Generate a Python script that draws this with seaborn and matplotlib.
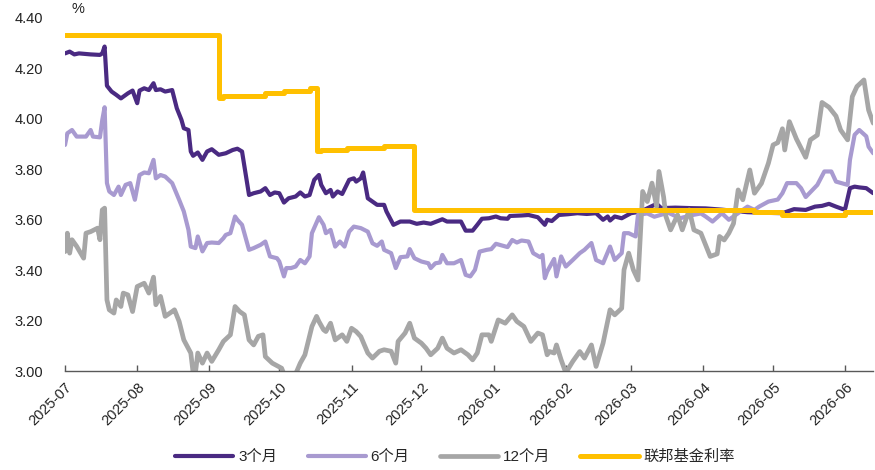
import matplotlib
matplotlib.use("Agg")
import matplotlib.pyplot as plt
import matplotlib.dates as mdates
import pandas as pd
import seaborn as sns

# ---- data -----------------------------------------------------------------
dates_3m = ["2025-07-01", "2025-07-03", "2025-07-05", "2025-07-07", "2025-07-12", "2025-07-16",
            "2025-07-17", "2025-07-18", "2025-07-19", "2025-07-21", "2025-07-23", "2025-07-25",
            "2025-07-28", "2025-07-30", "2025-08-01", "2025-08-02", "2025-08-04", "2025-08-06",
            "2025-08-08", "2025-08-09", "2025-08-11", "2025-08-13", "2025-08-16", "2025-08-18",
            "2025-08-20", "2025-08-21", "2025-08-23", "2025-08-24", "2025-08-25", "2025-08-27",
            "2025-08-29", "2025-08-31", "2025-09-02", "2025-09-05", "2025-09-08", "2025-09-11",
            "2025-09-13", "2025-09-15", "2025-09-18", "2025-09-20", "2025-09-23", "2025-09-25",
            "2025-09-27", "2025-09-29", "2025-10-01", "2025-10-03", "2025-10-05", "2025-10-08",
            "2025-10-10", "2025-10-12", "2025-10-14", "2025-10-16", "2025-10-18", "2025-10-19",
            "2025-10-21", "2025-10-23", "2025-10-24", "2025-10-26", "2025-10-28", "2025-10-31",
            "2025-11-02", "2025-11-03", "2025-11-05", "2025-11-06", "2025-11-08", "2025-11-10",
            "2025-11-12", "2025-11-15", "2025-11-16", "2025-11-19", "2025-11-22", "2025-11-26",
            "2025-11-29", "2025-12-02", "2025-12-05", "2025-12-10", "2025-12-12", "2025-12-18",
            "2025-12-20", "2025-12-23", "2025-12-25", "2025-12-27", "2025-12-30", "2026-01-02",
            "2026-01-04", "2026-01-07", "2026-01-08", "2026-01-13", "2026-01-16", "2026-01-20",
            "2026-01-23", "2026-01-24", "2026-01-26", "2026-01-29", "2026-02-02", "2026-02-06",
            "2026-02-10", "2026-02-14", "2026-02-17", "2026-02-19", "2026-02-20", "2026-02-22",
            "2026-02-25", "2026-03-01", "2026-03-05", "2026-03-12", "2026-03-14", "2026-03-20",
            "2026-03-27", "2026-04-02", "2026-04-09", "2026-04-20", "2026-04-26", "2026-05-05",
            "2026-05-10", "2026-05-15", "2026-05-19", "2026-05-22", "2026-05-25", "2026-05-28",
            "2026-05-31", "2026-06-01", "2026-06-03", "2026-06-05", "2026-06-07", "2026-06-10",
            "2026-06-13"]
vals_3m = [4.258, 4.265, 4.254, 4.258, 4.254, 4.252,
           4.258, 4.285, 4.130, 4.107, 4.094, 4.080,
           4.100, 4.111, 4.061, 4.111, 4.120, 4.113,
           4.140, 4.113, 4.116, 4.107, 4.113, 4.041,
           3.995, 3.962, 3.955, 3.870, 3.853, 3.866,
           3.837, 3.870, 3.879, 3.857, 3.863, 3.876,
           3.881, 3.870, 3.698, 3.705, 3.712, 3.725,
           3.698, 3.708, 3.705, 3.668, 3.685, 3.692,
           3.708, 3.692, 3.698, 3.758, 3.777, 3.738,
           3.705, 3.718, 3.692, 3.712, 3.702, 3.758,
           3.764, 3.751, 3.764, 3.787, 3.685, 3.672,
           3.659, 3.659, 3.633, 3.580, 3.593, 3.593,
           3.584, 3.589, 3.584, 3.602, 3.593, 3.593,
           3.557, 3.557, 3.580, 3.604, 3.606, 3.613,
           3.606, 3.604, 3.615, 3.617, 3.619, 3.610,
           3.580, 3.600, 3.595, 3.619, 3.622, 3.626,
           3.623, 3.626, 3.600, 3.613, 3.597, 3.613,
           3.606, 3.626, 3.632, 3.663, 3.646, 3.648,
           3.646, 3.645, 3.640, 3.630, 3.628, 3.626,
           3.642, 3.639, 3.652, 3.655, 3.663, 3.652,
           3.642, 3.645, 3.725, 3.731, 3.728, 3.725,
           3.705]

dates_6m = ["2025-07-01", "2025-07-02", "2025-07-04", "2025-07-06", "2025-07-10", "2025-07-12",
            "2025-07-13", "2025-07-16", "2025-07-17", "2025-07-18", "2025-07-19", "2025-07-20",
            "2025-07-22", "2025-07-24", "2025-07-25", "2025-07-27", "2025-07-29", "2025-07-31",
            "2025-08-02", "2025-08-04", "2025-08-06", "2025-08-08", "2025-08-09", "2025-08-11",
            "2025-08-13", "2025-08-16", "2025-08-19", "2025-08-21", "2025-08-23", "2025-08-24",
            "2025-08-26", "2025-08-27", "2025-08-29", "2025-08-31", "2025-09-02", "2025-09-05",
            "2025-09-07", "2025-09-08", "2025-09-10", "2025-09-12", "2025-09-13", "2025-09-15",
            "2025-09-18", "2025-09-20", "2025-09-23", "2025-09-25", "2025-09-27", "2025-09-30",
            "2025-10-01", "2025-10-03", "2025-10-04", "2025-10-06", "2025-10-08", "2025-10-10",
            "2025-10-12", "2025-10-14", "2025-10-15", "2025-10-18", "2025-10-20", "2025-10-21",
            "2025-10-23", "2025-10-25", "2025-10-27", "2025-10-29", "2025-10-31", "2025-11-02",
            "2025-11-05", "2025-11-08", "2025-11-10", "2025-11-12", "2025-11-14", "2025-11-15",
            "2025-11-18", "2025-11-20", "2025-11-22", "2025-11-25", "2025-11-26", "2025-11-28",
            "2025-12-01", "2025-12-04", "2025-12-05", "2025-12-07", "2025-12-09", "2025-12-10",
            "2025-12-12", "2025-12-15", "2025-12-18", "2025-12-20", "2025-12-22", "2025-12-24",
            "2025-12-26", "2025-12-29", "2025-12-31", "2026-01-02", "2026-01-05", "2026-01-07",
            "2026-01-09", "2026-01-11", "2026-01-13", "2026-01-16", "2026-01-18", "2026-01-21",
            "2026-01-22", "2026-01-23", "2026-01-24", "2026-01-27", "2026-01-28", "2026-01-30",
            "2026-02-01", "2026-02-04", "2026-02-07", "2026-02-09", "2026-02-12", "2026-02-14",
            "2026-02-17", "2026-02-20", "2026-02-22", "2026-02-25", "2026-02-26", "2026-02-28",
            "2026-03-03", "2026-03-04", "2026-03-08", "2026-03-11", "2026-03-17", "2026-03-22",
            "2026-03-27", "2026-03-31", "2026-04-02", "2026-04-05", "2026-04-09", "2026-04-12",
            "2026-04-16", "2026-04-20", "2026-04-23", "2026-04-25", "2026-04-29", "2026-05-03",
            "2026-05-05", "2026-05-07", "2026-05-11", "2026-05-13", "2026-05-15", "2026-05-20",
            "2026-05-23", "2026-05-26", "2026-05-28", "2026-06-02", "2026-06-03", "2026-06-05",
            "2026-06-07", "2026-06-10", "2026-06-11", "2026-06-13"]
vals_6m = [3.896, 3.942, 3.955, 3.929, 3.929, 3.955,
           3.929, 3.926, 3.995, 4.045, 3.745, 3.712,
           3.698, 3.731, 3.698, 3.738, 3.745, 3.679,
           3.777, 3.787, 3.784, 3.837, 3.764, 3.777,
           3.771, 3.745, 3.679, 3.633, 3.560, 3.494,
           3.488, 3.534, 3.475, 3.508, 3.510, 3.508,
           3.527, 3.540, 3.547, 3.613, 3.600, 3.580,
           3.481, 3.488, 3.501, 3.514, 3.455, 3.448,
           3.435, 3.376, 3.409, 3.409, 3.415, 3.441,
           3.428, 3.455, 3.547, 3.610, 3.580, 3.547,
           3.560, 3.494, 3.514, 3.494, 3.553, 3.573,
           3.567, 3.553, 3.507, 3.497, 3.514, 3.481,
           3.468, 3.409, 3.452, 3.455, 3.484, 3.448,
           3.435, 3.428, 3.409, 3.428, 3.431, 3.461,
           3.428, 3.428, 3.441, 3.382, 3.376, 3.402,
           3.474, 3.481, 3.484, 3.505, 3.497, 3.492,
           3.520, 3.510, 3.518, 3.514, 3.468, 3.452,
           3.461, 3.369, 3.395, 3.445, 3.376, 3.455,
           3.415, 3.441, 3.468, 3.481, 3.508, 3.441,
           3.428, 3.494, 3.441, 3.468, 3.547, 3.547,
           3.534, 3.620, 3.625, 3.612, 3.628, 3.606,
           3.618, 3.625, 3.613, 3.593, 3.626, 3.600,
           3.626, 3.652, 3.639, 3.652, 3.672, 3.680,
           3.705, 3.745, 3.745, 3.725, 3.690, 3.738,
           3.791, 3.791, 3.751, 3.738, 3.837, 3.936,
           3.955, 3.930, 3.889, 3.863]

dates_12m = ["2025-07-01", "2025-07-02", "2025-07-03", "2025-07-04", "2025-07-06", "2025-07-09",
             "2025-07-10", "2025-07-12", "2025-07-15", "2025-07-16", "2025-07-17", "2025-07-18",
             "2025-07-19", "2025-07-20", "2025-07-22", "2025-07-23", "2025-07-25", "2025-07-26",
             "2025-07-28", "2025-07-30", "2025-08-01", "2025-08-04", "2025-08-06", "2025-08-08",
             "2025-08-09", "2025-08-11", "2025-08-13", "2025-08-16", "2025-08-17", "2025-08-19",
             "2025-08-21", "2025-08-24", "2025-08-25", "2025-08-26", "2025-08-27", "2025-08-29",
             "2025-08-31", "2025-09-02", "2025-09-05", "2025-09-07", "2025-09-10", "2025-09-12",
             "2025-09-14", "2025-09-16", "2025-09-18", "2025-09-20", "2025-09-22", "2025-09-24",
             "2025-09-25", "2025-09-28", "2025-10-02", "2025-10-03", "2025-10-08", "2025-10-10",
             "2025-10-12", "2025-10-15", "2025-10-17", "2025-10-18", "2025-10-20", "2025-10-21",
             "2025-10-23", "2025-10-25", "2025-10-28", "2025-10-30", "2025-11-01", "2025-11-03",
             "2025-11-05", "2025-11-08", "2025-11-10", "2025-11-13", "2025-11-15", "2025-11-18",
             "2025-11-20", "2025-11-21", "2025-11-24", "2025-11-26", "2025-11-28", "2025-12-01",
             "2025-12-03", "2025-12-05", "2025-12-08", "2025-12-10", "2025-12-12", "2025-12-15",
             "2025-12-18", "2025-12-21", "2025-12-23", "2025-12-25", "2025-12-27", "2025-12-30",
             "2025-12-31", "2026-01-03", "2026-01-06", "2026-01-09", "2026-01-11", "2026-01-14",
             "2026-01-17", "2026-01-20", "2026-01-22", "2026-01-24", "2026-01-25", "2026-01-27",
             "2026-01-28", "2026-01-30", "2026-02-01", "2026-02-04", "2026-02-07", "2026-02-09",
             "2026-02-12", "2026-02-14", "2026-02-17", "2026-02-20", "2026-02-22", "2026-02-25",
             "2026-02-26", "2026-02-28", "2026-03-02", "2026-03-04", "2026-03-05", "2026-03-06",
             "2026-03-08", "2026-03-10", "2026-03-12", "2026-03-13", "2026-03-15", "2026-03-16",
             "2026-03-18", "2026-03-21", "2026-03-23", "2026-03-26", "2026-03-28", "2026-03-31",
             "2026-04-04", "2026-04-07", "2026-04-08", "2026-04-10", "2026-04-12", "2026-04-14",
             "2026-04-16", "2026-04-18", "2026-04-21", "2026-04-23", "2026-04-26", "2026-04-29",
             "2026-05-01", "2026-05-03", "2026-05-05", "2026-05-06", "2026-05-08", "2026-05-11",
             "2026-05-15", "2026-05-17", "2026-05-20", "2026-05-22", "2026-05-25", "2026-05-28",
             "2026-05-30", "2026-06-02", "2026-06-04", "2026-06-06", "2026-06-09", "2026-06-11",
             "2026-06-13"]
vals_12m = [3.474, 3.547, 3.468, 3.521, 3.495, 3.448,
            3.547, 3.553, 3.567, 3.521, 3.639, 3.646,
            3.283, 3.244, 3.231, 3.283, 3.257, 3.310,
            3.303, 3.237, 3.336, 3.349, 3.310, 3.373,
            3.264, 3.297, 3.218, 3.237, 3.244, 3.198,
            3.125, 3.073, 2.995, 2.995, 3.073, 3.033,
            3.073, 3.040, 3.086, 3.119, 3.145, 3.257,
            3.237, 3.224, 3.125, 3.105, 3.139, 3.145,
            3.059, 3.033, 3.013, 2.990, 2.990, 3.033,
            3.066, 3.178, 3.218, 3.198, 3.165, 3.158,
            3.191, 3.125, 3.145, 3.119, 3.171, 3.158,
            3.138, 3.073, 3.053, 3.080, 3.086, 3.080,
            3.033, 3.119, 3.152, 3.191, 3.132, 3.112,
            3.092, 3.066, 3.092, 3.132, 3.092, 3.073,
            3.086, 3.066, 3.046, 3.073, 3.145, 3.145,
            3.119, 3.204, 3.191, 3.224, 3.198, 3.178,
            3.119, 3.152, 3.145, 3.066, 3.079, 3.073,
            3.105, 3.046, 2.995, 3.040, 3.079, 3.053,
            3.105, 3.020, 3.112, 3.244, 3.224, 3.250,
            3.402, 3.468, 3.402, 3.362, 3.534, 3.712,
            3.672, 3.745, 3.652, 3.791, 3.690, 3.613,
            3.560, 3.619, 3.560, 3.639, 3.560, 3.547,
            3.455, 3.465, 3.534, 3.520, 3.547, 3.585,
            3.718, 3.679, 3.797, 3.705, 3.744, 3.824,
            3.896, 3.905, 3.960, 3.876, 3.988, 3.920,
            3.847, 3.916, 3.935, 4.064, 4.045, 4.010,
            3.955, 3.916, 4.087, 4.127, 4.153, 4.034,
            3.982]

dates_fed = ["2025-07-01", "2025-09-05", "2025-09-07", "2025-09-25", "2025-10-03", "2025-10-14",
             "2025-10-17", "2025-10-19", "2025-10-30", "2025-11-15", "2025-11-28", "2026-04-23",
             "2026-05-05", "2026-06-01", "2026-06-13"]
vals_fed = [4.33, 4.08, 4.09, 4.10, 4.11, 4.12,
            3.87, 3.876, 3.883, 3.892, 3.64, 3.63,
            3.62, 3.63, 3.63]

series_names = ["3个月", "6个月", "12个月", "联邦基金利率"]
series_colors = ["#4A2A82", "#A89AD0", "#A6A6A6", "#FFC000"]
tick_months = pd.date_range("2025-07-01", "2026-06-01", freq="MS")
y_ticks = [3.00, 3.20, 3.40, 3.60, 3.80, 4.00, 4.20, 4.40]

# ---- figure ---------------------------------------------------------------
sns.set_theme(style="white")
plt.rcParams["font.family"] = ["Liberation Sans", "Noto Sans CJK SC", "DejaVu Sans"]

fig = plt.figure(figsize=(8.75, 4.70), dpi=100)
ax = fig.add_axes([0.0743, 0.2096, 0.9237, 0.7532])

frames = [
    pd.DataFrame({"date": pd.to_datetime(dates_3m), "value": vals_3m}),
    pd.DataFrame({"date": pd.to_datetime(dates_6m), "value": vals_6m}),
    pd.DataFrame({"date": pd.to_datetime(dates_12m), "value": vals_12m}),
]
widths = [3.0, 3.0, 3.4]
for df, name, color, lw in zip(frames, series_names[:3], series_colors[:3], widths):
    sns.lineplot(data=df, x="date", y="value", ax=ax, color=color, linewidth=lw,
                 label=name, estimator=None, sort=False, solid_joinstyle="round")

fed = pd.DataFrame({"date": pd.to_datetime(dates_fed), "value": vals_fed})
sns.lineplot(data=fed, x="date", y="value", ax=ax, color=series_colors[3], linewidth=3.6,
             label=series_names[3], estimator=None, sort=False, drawstyle="steps-post",
             zorder=5)

ax.set_xlim(pd.Timestamp("2025-07-01"), pd.Timestamp("2026-06-13"))
ax.set_ylim(3.0, 4.4)
ax.set_yticks(y_ticks)
ax.set_yticklabels([f"{v:.2f}" for v in y_ticks])
ax.set_xticks(tick_months)
ax.xaxis.set_major_formatter(mdates.DateFormatter("%Y-%m"))
ax.set_xlabel("")
ax.set_ylabel("")

for side in ["top", "right", "left"]:
    ax.spines[side].set_visible(False)
ax.spines["bottom"].set_color("#595959")
ax.spines["bottom"].set_linewidth(1.0)

ax.tick_params(axis="y", length=0, pad=16, labelsize=10.5, labelcolor="#222222")
ax.tick_params(axis="x", direction="in", length=4, width=1.0, color="#595959",
               bottom=True, pad=6, labelsize=10.5, labelcolor="#222222")
for lab in ax.get_xticklabels():
    lab.set_rotation(45)
    lab.set_ha("right")
    lab.set_rotation_mode("anchor")

ax.annotate("%", xy=(0.008, 1.005), xycoords="axes fraction", fontsize=10.5,
            color="#222222", ha="left", va="bottom")

ax.get_legend().remove()
handles, labels = ax.get_legend_handles_labels()
fig.legend(handles, labels, loc="center", bbox_to_anchor=(0.52, 0.028), ncol=4,
           frameon=False, fontsize=11, handlelength=3.8, handletextpad=0.3,
           columnspacing=2.0)

fig.savefig("out.png", dpi=100)
